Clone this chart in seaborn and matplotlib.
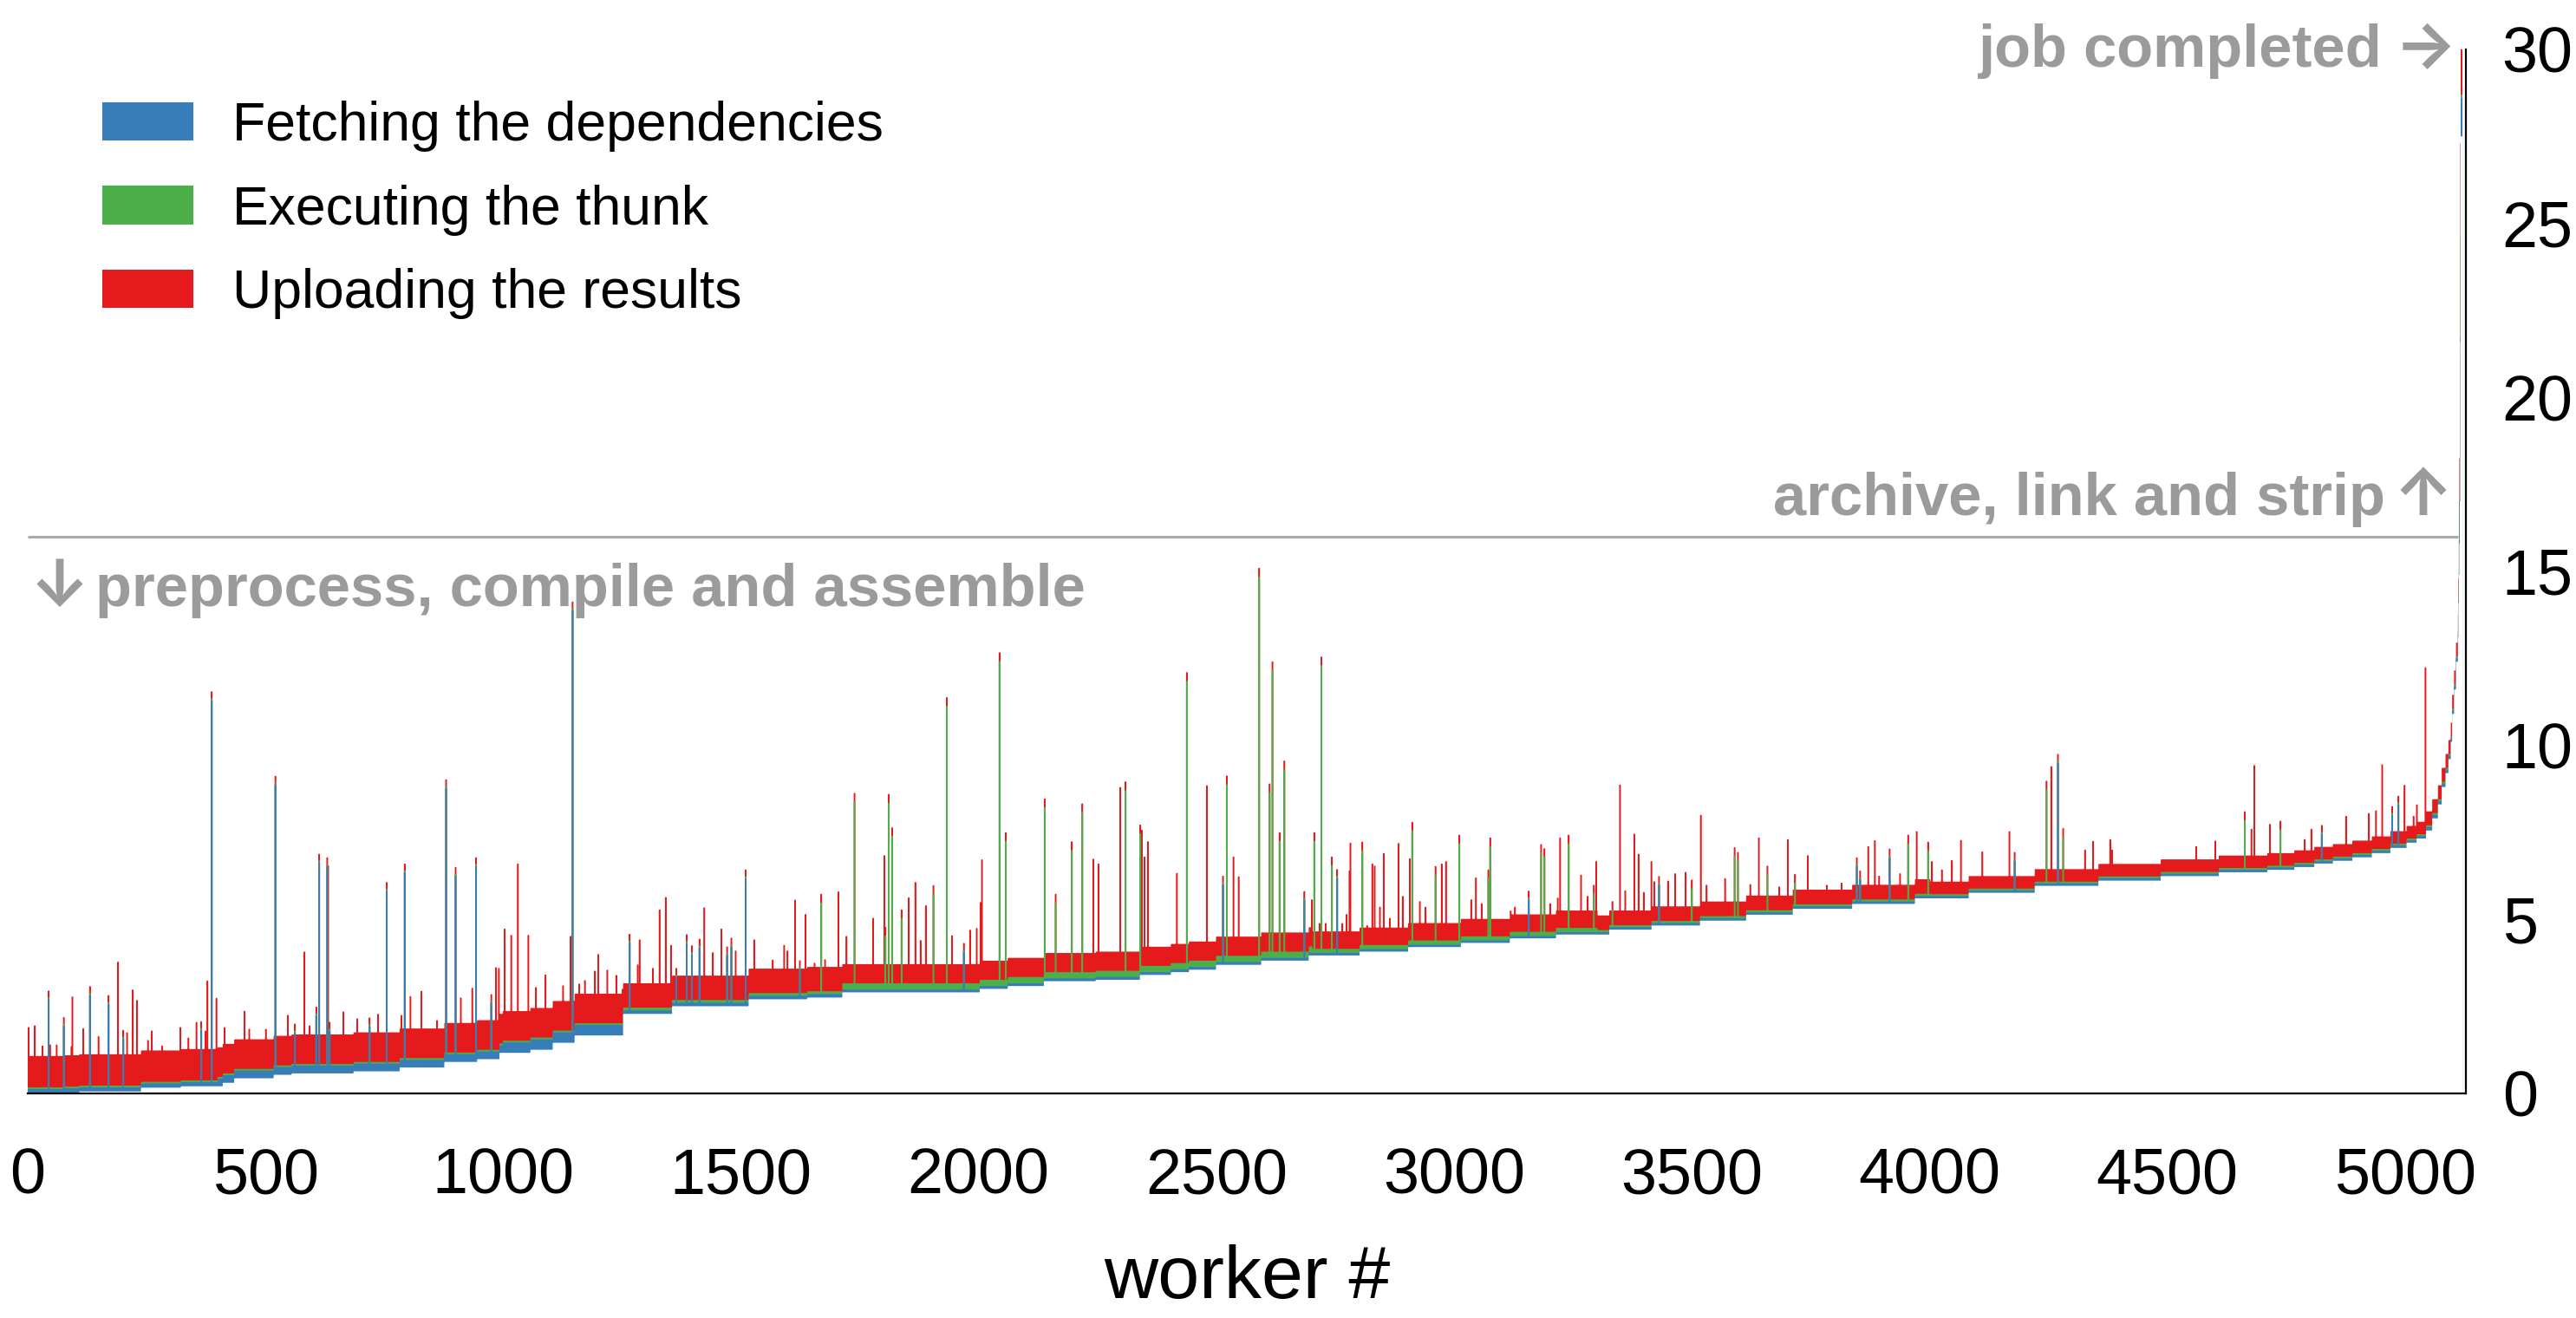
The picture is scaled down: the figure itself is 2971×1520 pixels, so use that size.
import numpy as np
import pandas as pd
import matplotlib
matplotlib.use("Agg")
import matplotlib.pyplot as plt
from matplotlib.patches import Patch
import seaborn as sns

n_workers = 5119

# start-time plateaus: first worker of each plateau and its start time
plateau_first = [0, 77, 109, 239, 323, 411, 435, 518, 556, 686,
                 783, 877, 946, 993, 1058, 1105, 1151, 1253, 1356, 1517,
                 1640, 1714, 2003, 2062, 2138, 2247, 2340, 2405, 2443, 2500,
                 2595, 2695, 2802, 2904, 3015, 3118, 3215, 3327, 3416, 3518,
                 3615, 3713, 3838, 3970, 4083, 4222, 4356, 4487, 4609, 4711,
                 4768, 4810, 4849, 4890, 4931, 4970, 5004, 5025, 5045, 5058,
                 5070, 5078, 5086, 5092, 5097, 5100, 5104, 5108]
plateau_start = [0.0, 0.02, 0.05, 0.16, 0.2, 0.3, 0.43, 0.53, 0.57, 0.63,
                 0.74, 0.9, 0.98, 1.16, 1.25, 1.45, 1.66, 2.28, 2.5, 2.7,
                 2.75, 2.9, 3.0, 3.08, 3.22, 3.26, 3.4, 3.48, 3.55, 3.69,
                 3.81, 3.96, 4.07, 4.2, 4.32, 4.45, 4.56, 4.7, 4.82, 4.96,
                 5.13, 5.3, 5.44, 5.6, 5.76, 5.96, 6.11, 6.24, 6.35, 6.42,
                 6.5, 6.6, 6.68, 6.78, 6.9, 7.05, 7.2, 7.32, 7.55, 7.9,
                 8.3, 8.8, 9.2, 9.6, 10.1, 10.9, 11.6, 12.4]

# typical stage durations per stretch of workers
region_first = [0, 400, 1000, 1253, 1714, 2700, 3300, 4000, 5045]
fetch_typ = [0.12, 0.22, 0.3, 0.1, 0.08, 0.07, 0.07, 0.07, 0.1]
exec_typ = [0.05, 0.05, 0.05, 0.08, 0.18, 0.12, 0.06, 0.05, 0.05]
upload_typ = [0.9, 0.85, 0.85, 0.7, 0.55, 0.5, 0.42, 0.36, 0.4]

# the last few workers (archive, link and strip)
tail_worker = [5112, 5113, 5114, 5115, 5116, 5117, 5118]
tail_start = [13.1, 14.1, 14.9, 15.8, 17.0, 21.6, 27.5]
tail_fetch = [0.1, 0.05, 0.05, 1.2, 0.05, 0.1, 1.1]
tail_exec = [0.1, 0.05, 0.9, 0.05, 1.15, 2.9, 0.1]
tail_upload = [0.45, 0.6, 0.05, 1.2, 2.9, 2.7, 1.3]

# slow workers: worker, stage that took long (f/e/u), top of the bar
spikes = [
    (1, 'u', 1.9), (14, 'u', 1.95), (30, 'u', 1.37), (43, 'f', 3.0), (46, 'u', 1.4),
    (60, 'u', 1.4), (75, 'f', 2.24), (91, 'u', 1.35), (93, 'u', 2.78), (116, 'u', 1.87),
    (130, 'f', 3.13), (148, 'u', 1.64), (169, 'f', 2.87), (189, 'u', 3.78), (200, 'f', 1.87),
    (208, 'u', 1.75), (220, 'u', 2.98), (229, 'u', 2.68), (252, 'u', 1.53), (260, 'u', 1.8),
    (282, 'u', 1.37), (320, 'u', 1.9), (337, 'u', 1.6), (354, 'u', 2.05), (364, 'f', 2.12),
    (373, 'u', 1.8), (377, 'u', 3.24), (386, 'f', 11.6), (396, 'u', 2.74), (413, 'u', 1.9),
    (455, 'u', 2.37), (465, 'u', 1.85), (485, 'u', 1.4), (500, 'u', 1.85), (520, 'f', 9.17),
    (546, 'u', 2.25), (561, 'f', 2.05), (581, 'u', 4.07), (592, 'u', 1.95), (606, 'f', 2.54),
    (612, 'f', 6.93), (629, 'f', 6.83), (631, 'u', 6.55), (634, 'f', 2.1), (663, 'u', 2.35),
    (692, 'u', 2.15), (718, 'f', 2.23), (736, 'u', 2.28), (754, 'f', 6.12), (785, 'u', 2.25),
    (792, 'f', 6.65), (804, 'u', 2.79), (827, 'u', 2.94), (860, 'u', 2.1), (879, 'f', 9.07),
    (899, 'f', 6.55), (910, 'u', 2.75), (934, 'u', 3.03), (942, 'f', 6.83), (974, 'f', 2.9),
    (984, 'u', 3.62), (990, 'u', 3.6), (1002, 'u', 4.73), (1016, 'u', 4.55), (1030, 'u', 6.6),
    (1052, 'u', 4.55), (1068, 'u', 3.05), (1088, 'u', 3.41), (1125, 'u', 3.1), (1141, 'u', 4.52),
    (1145, 'f', 14.18), (1159, 'u', 3.15), (1171, 'u', 3.25), (1192, 'u', 3.52), (1199, 'u', 4.0),
    (1218, 'u', 3.55), (1237, 'u', 3.4), (1250, 'u', 3.0), (1265, 'f', 4.66), (1282, 'u', 3.7),
    (1286, 'u', 4.42), (1314, 'u', 3.6), (1328, 'u', 5.28), (1341, 'u', 5.64), (1352, 'u', 4.26),
    (1363, 'f', 3.68), (1385, 'f', 4.65), (1396, 'f', 4.33), (1412, 'f', 4.52), (1422, 'u', 5.34),
    (1440, 'u', 4.05), (1458, 'u', 4.73), (1470, 'f', 4.3), (1479, 'f', 4.55), (1488, 'u', 4.1),
    (1509, 'f', 6.51), (1527, 'u', 4.42), (1566, 'u', 3.84), (1590, 'u', 4.26), (1597, 'u', 4.1),
    (1613, 'u', 5.56), (1623, 'f', 3.9), (1635, 'u', 5.15), (1654, 'u', 3.75), (1668, 'e', 5.73),
    (1676, 'u', 3.85), (1704, 'u', 5.8), (1721, 'u', 4.52), (1738, 'e', 8.63), (1777, 'u', 5.04),
    (1801, 'u', 6.84), (1803, 'e', 4.78), (1810, 'e', 8.6), (1817, 'e', 7.64), (1837, 'e', 5.28),
    (1852, 'u', 5.63), (1866, 'u', 6.07), (1877, 'u', 4.4), (1888, 'u', 5.4), (1904, 'e', 5.98),
    (1932, 'e', 11.38), (1943, 'u', 4.54), (1968, 'f', 4.5), (1981, 'u', 4.7), (1995, 'u', 4.75),
    (2003, 'u', 5.49), (2006, 'u', 6.72), (2043, 'e', 12.67), (2056, 'e', 7.5), (2138, 'e', 8.47),
    (2161, 'e', 5.73), (2195, 'e', 7.24), (2217, 'e', 8.33), (2240, 'u', 6.74), (2251, 'u', 6.6),
    (2297, 'u', 8.8), (2308, 'e', 8.96), (2339, 'e', 7.72), (2342, 'u', 7.57), (2348, 'u', 6.8),
    (2355, 'u', 7.24), (2416, 'u', 6.33), (2437, 'e', 12.1), (2479, 'u', 8.85), (2513, 'f', 6.43),
    (2521, 'e', 9.13), (2535, 'u', 6.8), (2546, 'u', 6.23), (2589, 'e', 15.1), (2611, 'e', 8.9),
    (2617, 'e', 12.41), (2632, 'e', 7.5), (2642, 'e', 9.56), (2684, 'f', 5.99), (2700, 'u', 5.57),
    (2705, 'e', 7.5), (2716, 'u', 4.89), (2720, 'e', 12.55), (2729, 'u', 4.89), (2742, 'e', 6.8),
    (2753, 'f', 6.56), (2764, 'u', 4.89), (2773, 'u', 5.15), (2779, 'u', 6.4), (2781, 'u', 7.2),
    (2806, 'e', 7.23), (2816, 'u', 4.83), (2827, 'u', 6.6), (2832, 'u', 6.54), (2843, 'u', 5.36),
    (2851, 'u', 6.9), (2864, 'u', 5.04), (2882, 'u', 7.19), (2891, 'u', 5.67), (2906, 'u', 6.75),
    (2911, 'e', 7.8), (2927, 'u', 5.52), (2939, 'u', 5.36), (2960, 'e', 6.53), (2973, 'u', 6.6),
    (2982, 'u', 6.67), (3010, 'e', 7.43), (3035, 'u', 5.57), (3045, 'u', 6.2), (3057, 'u', 5.46),
    (3071, 'e', 6.43), (3075, 'e', 7.35), (3118, 'u', 5.25), (3127, 'u', 5.36), (3156, 'f', 5.94),
    (3182, 'e', 7.16), (3189, 'e', 7.04), (3201, 'u', 5.46), (3217, 'u', 5.62), (3222, 'u', 7.35),
    (3240, 'e', 7.43), (3266, 'u', 6.28), (3280, 'u', 5.67), (3293, 'e', 5.99), (3298, 'u', 6.67),
    (3332, 'e', 5.52), (3348, 'u', 8.87), (3359, 'u', 5.83), (3378, 'u', 7.46), (3387, 'u', 6.88),
    (3398, 'u', 5.78), (3414, 'u', 6.67), (3420, 'u', 6.09), (3430, 'f', 6.3), (3449, 'u', 6.11),
    (3464, 'u', 6.32), (3486, 'u', 6.36), (3499, 'e', 6.14), (3518, 'u', 8.0), (3530, 'u', 5.99),
    (3569, 'u', 6.18), (3589, 'e', 7.07), (3596, 'e', 6.93), (3622, 'u', 6.01), (3640, 'u', 7.35),
    (3658, 'e', 6.54), (3683, 'u', 5.94), (3701, 'u', 7.3), (3716, 'e', 6.3), (3743, 'u', 6.84),
    (3761, 'u', 5.83), (3783, 'u', 5.99), (3814, 'u', 6.05), (3846, 'f', 6.84), (3853, 'f', 6.46),
    (3870, 'u', 7.1), (3884, 'u', 7.27), (3893, 'u', 6.25), (3915, 'f', 7.09), (3937, 'u', 6.32),
    (3954, 'e', 7.43), (3972, 'u', 7.53), (3996, 'e', 7.23), (4004, 'u', 6.67), (4025, 'u', 6.43),
    (4046, 'u', 6.7), (4065, 'u', 7.28), (4110, 'u', 6.95),
    (4167, 'u', 7.53), (4178, 'f', 6.98), (4245, 'e', 8.98), (4255, 'u', 9.4), (4269, 'f', 9.8),
    (4280, 'e', 7.62), (4326, 'u', 7.0), (4343, 'u', 7.25), (4379, 'u', 7.3), (4383, 'u', 7.0),
    (4560, 'u', 7.1), (4600, 'u', 7.26), (4662, 'e', 8.1), (4676, 'u', 7.6), (4682, 'u', 9.43),
    (4715, 'u', 7.74), (4737, 'e', 7.83), (4788, 'u', 7.3), (4802, 'u', 7.6), (4824, 'f', 7.76),
    (4875, 'u', 7.97), (4923, 'u', 8.05), (4938, 'u', 8.13), (4951, 'u', 9.45), (4972, 'f', 8.3),
    (4985, 'f', 8.6), (4998, 'u', 8.86), (5017, 'u', 7.97), (5024, 'u', 8.3), (5042, 'u', 12.24),
]
cap_height = 0.25  # red tip on top of a slow fetch / exec

stage_labels = ["Fetching the dependencies", "Executing the thunk", "Uploading the results"]
stage_colors = ["#377eb8", "#4daf4a", "#e41a1c"]
stage_boundary = 16.0
x_ticks = list(range(0, 5001, 500))
y_ticks = list(range(0, 31, 5))

# build per-worker table
workers = np.arange(n_workers)
start = np.array(plateau_start)[np.searchsorted(plateau_first, workers, side="right") - 1]
ridx = np.searchsorted(region_first, workers, side="right") - 1
fetch = np.array(fetch_typ)[ridx]
execute = np.array(exec_typ)[ridx]
upload = np.array(upload_typ)[ridx]

for w, s, f, e, u in zip(tail_worker, tail_start, tail_fetch, tail_exec, tail_upload):
    start[w], fetch[w], execute[w], upload[w] = s, f, e, u

for w, kind, top in spikes:
    base = start[w]
    if kind == 'u':
        upload[w] = max(upload[w], top - base - fetch[w] - execute[w])
    elif kind == 'e':
        execute[w] = top - cap_height - base - fetch[w]
        upload[w] = cap_height
    else:
        fetch[w] = top - cap_height - base - execute[w]
        upload[w] = cap_height - 0.05
        execute[w] = 0.05

df = pd.DataFrame({
    "worker": workers,
    "start": start,
    "fetched": start + fetch,
    "executed": start + fetch + execute,
    "uploaded": start + fetch + execute + upload,
})

sns.set_theme(style="white")
plt.rcParams["font.family"] = ["Liberation Sans", "DejaVu Sans"]
plt.rcParams["text.color"] = "black"
plt.rcParams["axes.labelcolor"] = "black"
plt.rcParams["xtick.color"] = "black"
plt.rcParams["ytick.color"] = "black"

fig = plt.figure(figsize=(29.71, 15.2), dpi=100)
ax = fig.add_axes([0.01077, 0.1704, 0.9465, 0.7921])

# painter's order: full bar in red, then green, blue, and white below the start
layers = [("uploaded", stage_colors[2]), ("executed", stage_colors[1]),
          ("fetched", stage_colors[0]), ("start", "white")]
for col, color in layers:
    sns.histplot(data=df, x="worker", weights=col, discrete=True, element="step",
                 fill=True, color=color, alpha=1, linewidth=1.0, edgecolor=color, ax=ax)

ax.hlines(stage_boundary, 0, 5111, color="#aaaaaa", lw=2.2, zorder=5)

gray = "#9b9b9b"
note = dict(color=gray, fontsize=49.5, fontweight="bold", va="baseline", clip_on=False)
arrow = dict(color=gray, fontsize=54, family=["Inter", "DejaVu Sans"], fontweight="bold",
             va="baseline", clip_on=False)
ax.text(4951, 29.5, "job completed", ha="right", **note)
ax.text(5108, 29.5, "\u2192", ha="right", **arrow)
ax.text(4958, 16.63, "archive, link and strip", ha="right", **note)
ax.text(5100, 16.63, "\u2191", ha="right", **arrow)
ax.text(4, 14.0, "\u2193", ha="left", **arrow)
ax.text(142, 14.0, "preprocess, compile and assemble", ha="left", **note)

ax.set_xlim(0, 5128)
ax.set_ylim(0, 30)
ax.set_xticks(x_ticks)
ax.set_yticks(y_ticks)
ax.yaxis.tick_right()
ax.tick_params(axis="x", labelsize=53, length=0, pad=44, labelcolor="black")
ax.tick_params(axis="y", labelsize=53, length=0, pad=30, labelcolor="black")
ax.set_ylabel("")
ax.set_xlabel("worker #", fontsize=62, color="black")
ax.xaxis.label.set_va("baseline")
ax.xaxis.set_label_coords(0.5, -0.196)

for side in ["left", "top"]:
    ax.spines[side].set_visible(False)
for side in ["bottom", "right"]:
    ax.spines[side].set_visible(True)
    ax.spines[side].set_color("black")
    ax.spines[side].set_linewidth(1.6)
    ax.spines[side].set_zorder(6)

handles = [Patch(facecolor=c, edgecolor="none", label=l) for l, c in zip(stage_labels, stage_colors)]
fig.legend(handles=handles, loc="upper left", bbox_to_anchor=(118 / 2971, 1 - 116 / 1520),
           frameon=False, fontsize=45, handlelength=1.68, handleheight=0.72,
           handletextpad=0.72, labelspacing=0.6, borderpad=0, borderaxespad=0,
           labelcolor="black")

fig.savefig("out.png", dpi=100)
